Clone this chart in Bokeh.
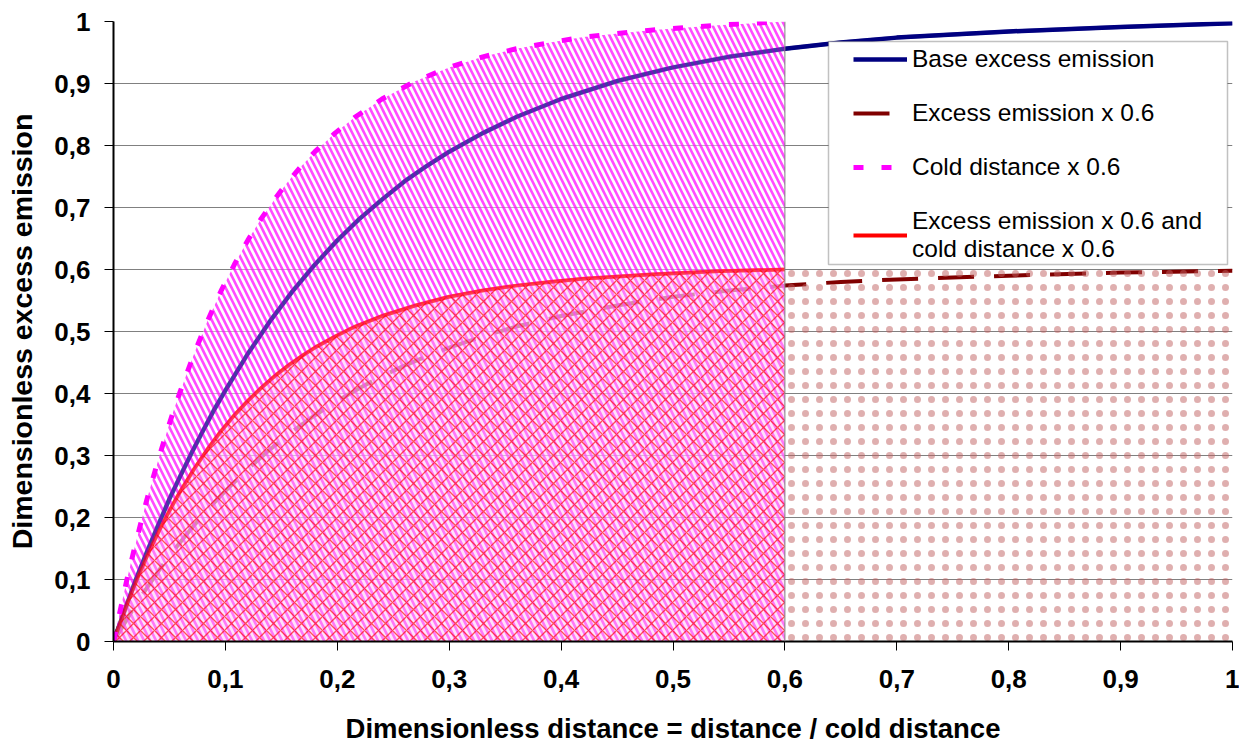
from bokeh.plotting import figure
from bokeh.models import Range1d, FixedTicker, Legend, LegendItem, Span, BoxAnnotation
from bokeh.embed import file_html
from bokeh.resources import INLINE

# ---- data ----
dist = [0, 0.01, 0.02, 0.03, 0.04, 0.05, 0.06, 0.07, 0.08, 0.09, 0.1, 0.12, 0.14, 0.16,
        0.18, 0.2, 0.22, 0.24, 0.26, 0.28, 0.3, 0.33, 0.36, 0.4, 0.45, 0.5, 0.55, 0.6,
        0.65, 0.7, 0.8, 0.9, 1.0]
base_excess = [0, 0.05, 0.10, 0.145, 0.188, 0.23, 0.268, 0.305, 0.34, 0.374, 0.405, 0.464,
               0.517, 0.565, 0.608, 0.647, 0.682, 0.713, 0.742, 0.767, 0.79, 0.82, 0.846,
               0.875, 0.904, 0.926, 0.943, 0.956, 0.966, 0.974, 0.984, 0.991, 0.997]
excess_x06 = [0, 0.03, 0.06, 0.087, 0.113, 0.138, 0.161, 0.183, 0.204, 0.224, 0.243, 0.278,
              0.310, 0.339, 0.365, 0.388, 0.409, 0.428, 0.445, 0.460, 0.474, 0.492, 0.508,
              0.525, 0.542, 0.556, 0.566, 0.574, 0.580, 0.584, 0.590, 0.595, 0.598]

cold_dist = [0, 0.006, 0.012, 0.018, 0.024, 0.03, 0.036, 0.042, 0.048, 0.054, 0.06, 0.072,
             0.084, 0.096, 0.108, 0.12, 0.132, 0.144, 0.156, 0.168, 0.18, 0.198, 0.216,
             0.24, 0.27, 0.30, 0.33, 0.36, 0.39, 0.42, 0.48, 0.54, 0.6]
cold_x06 = [0, 0.05, 0.10, 0.145, 0.188, 0.23, 0.268, 0.305, 0.34, 0.374, 0.405, 0.464,
            0.517, 0.565, 0.608, 0.647, 0.682, 0.713, 0.742, 0.767, 0.79, 0.82, 0.846,
            0.875, 0.904, 0.926, 0.943, 0.956, 0.966, 0.975, 0.986, 0.994, 1.0]
both_x06 = [0, 0.03, 0.06, 0.087, 0.113, 0.138, 0.161, 0.183, 0.204, 0.224, 0.243, 0.278,
            0.310, 0.339, 0.365, 0.388, 0.409, 0.428, 0.445, 0.460, 0.474, 0.492, 0.508,
            0.525, 0.542, 0.556, 0.566, 0.574, 0.580, 0.585, 0.592, 0.597, 0.6]

savings_x = [0.6, 1.0]
savings_top = [0.6, 0.6]

tick_values = [0, 0.1, 0.2, 0.3, 0.4, 0.5, 0.6, 0.7, 0.8, 0.9, 1]
tick_labels = ["0", "0,1", "0,2", "0,3", "0,4", "0,5", "0,6", "0,7", "0,8", "0,9", "1"]

series_labels = ["Base excess emission", "Excess emission x 0.6", "Cold distance x 0.6",
                 "Excess emission x 0.6 and\ncold distance x 0.6"]

FONT = "Liberation Sans"

p = figure(width=1239, height=747, output_backend="svg", toolbar_location=None,
           x_range=Range1d(0, 1), y_range=Range1d(0, 1),
           min_border_left=113, min_border_right=7, min_border_top=21, min_border_bottom=106)
p.outline_line_color = None
p.background_fill_color = "white"
p.border_fill_color = "white"

# lines under the areas (as in the original, where the fills are laid over them)
r_base = p.line(dist, base_excess, line_color="#000080", line_width=4.5)
r_exc = p.line(dist, excess_x06, line_color="#800000", line_width=4, line_dash="36 20")
r_both = p.line(cold_dist, both_x06, line_color="#ff0000", line_width=4)

# hatched areas
p.varea(x=cold_dist, y1=0, y2=cold_x06, fill_color="white", fill_alpha=0.45,
        hatch_pattern="left_diagonal_line", hatch_color="#ff00ff", hatch_scale=12,
        hatch_weight=2.6, hatch_alpha=0.7)
# base curve shows through the magenta hatching
p.line(dist, base_excess, line_color="#000080", line_width=4, line_alpha=0.45)
p.varea(x=cold_dist, y1=0, y2=both_x06, fill_color="#ffb8f0", fill_alpha=0.4,
        hatch_pattern="diagonal_cross", hatch_color="#ff0000", hatch_scale=14,
        hatch_weight=1.3, hatch_alpha=0.65)
p.line(cold_dist, both_x06, line_color="#ff0000", line_width=3.5, line_alpha=0.55)
p.varea(x=savings_x, y1=0, y2=savings_top, fill_color="white", fill_alpha=0.0,
        hatch_pattern="dot", hatch_color="#c06060", hatch_scale=14,
        hatch_weight=1.0, hatch_alpha=0.5)

# magenta dashed curve stays on top
r_cold = p.line(cold_dist, cold_x06, line_color="#ff00ff", line_width=5, line_dash="10 18")

p.add_layout(Span(location=savings_x[0], dimension="height", line_color="#808080",
                  line_width=1))

# grid
p.xgrid.grid_line_color = None
p.ygrid.ticker = FixedTicker(ticks=tick_values)
p.ygrid.grid_line_color = "#808080"
p.ygrid.grid_line_width = 1

# axes
overrides = {v: s for v, s in zip(tick_values, tick_labels)}
for ax in (p.xaxis[0], p.yaxis[0]):
    ax.ticker = FixedTicker(ticks=tick_values)
    ax.major_label_overrides = overrides
    ax.axis_line_color = "black"
    ax.axis_line_width = 2
    ax.major_tick_line_color = "black"
    ax.major_tick_line_width = 1
    ax.major_tick_out = 9
    ax.major_tick_in = 0
    ax.minor_tick_line_color = None
    ax.major_label_text_font = FONT
    ax.major_label_text_font_style = "bold"
    ax.major_label_text_font_size = "26px"
    ax.major_label_text_color = "black"
    ax.axis_label_text_font = FONT
    ax.axis_label_text_font_style = "bold"
    ax.axis_label_text_color = "black"

p.xaxis.axis_label = "Dimensionless distance = distance / cold distance"
p.yaxis.axis_label = "Dimensionless excess emission"
p.xaxis.axis_label_text_font_size = "27.5px"
p.yaxis.axis_label_text_font_size = "28.5px"
p.xaxis.major_label_standoff = 19
p.yaxis.major_label_standoff = 14
p.xaxis.axis_label_standoff = 22
p.yaxis.axis_label_standoff = 13

# legend frame (screen units, relative to the plot frame)
p.add_layout(BoxAnnotation(left=715, right=1114, bottom=377, top=600,
                           left_units="screen", right_units="screen",
                           bottom_units="screen", top_units="screen",
                           fill_color="white", fill_alpha=1.0,
                           line_color="#333333", line_width=1.5))

legend = Legend(items=[LegendItem(label=series_labels[0], renderers=[r_base]),
                       LegendItem(label=series_labels[1], renderers=[r_exc]),
                       LegendItem(label=series_labels[2], renderers=[r_cold]),
                       LegendItem(label=series_labels[3], renderers=[r_both])],
                location=(740, 378), margin=0, padding=0, spacing=26,
                glyph_width=54, glyph_height=28, label_height=28, label_standoff=5,
                label_text_font=FONT, label_text_font_size="24.5px",
                label_text_color="black",
                border_line_color=None, background_fill_alpha=0.0)
p.add_layout(legend)

open("out.html", "w").write(file_html(p, INLINE))
